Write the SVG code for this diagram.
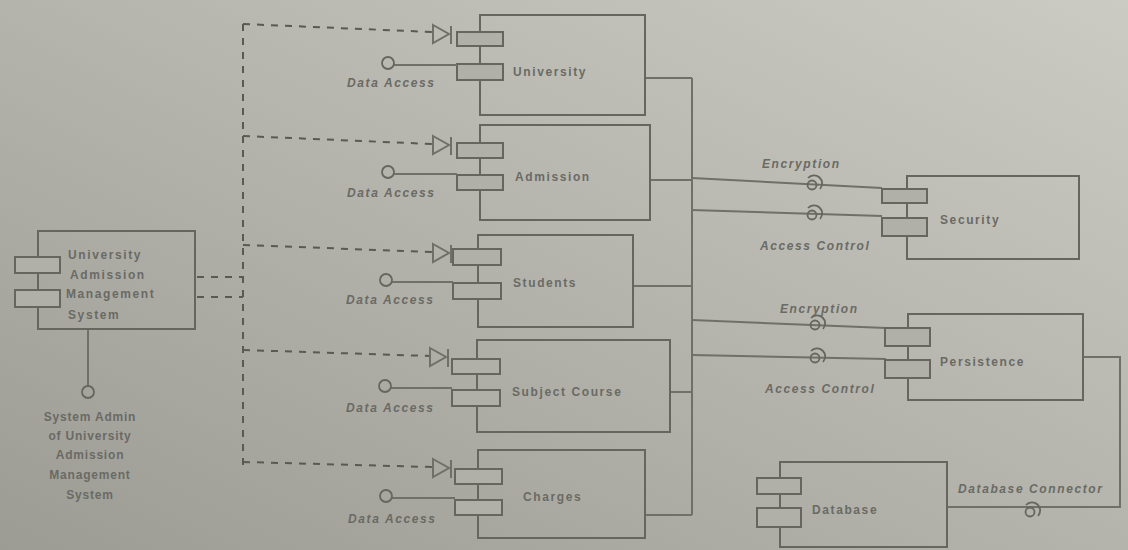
<svg xmlns="http://www.w3.org/2000/svg" width="1128" height="550" viewBox="0 0 1128 550">
<defs>
<linearGradient id="bg" x1="0" y1="1" x2="1" y2="0">
<stop offset="0" stop-color="#9c9c95"/>
<stop offset="0.5" stop-color="#b4b4ad"/>
<stop offset="1" stop-color="#cbcbc4"/>
</linearGradient>
<marker id="tri" viewBox="0 0 18 18" refX="17" refY="9" markerWidth="18" markerHeight="18" markerUnits="userSpaceOnUse" orient="auto">
<path d="M1,1 L17,9 L1,17 Z" fill="none" stroke="#5a5a55" stroke-width="1.8"/>
</marker>
</defs>
<style>
.box{fill:none;stroke:#66665f;stroke-width:2}
.port{fill:#b0b0a9;stroke:#66665f;stroke-width:2}
.ln{fill:none;stroke:#707069;stroke-width:2}
.dash{fill:none;stroke:#5a5a55;stroke-width:2;stroke-dasharray:7 7}
.ball{fill:none;stroke:#66665f;stroke-width:1.8}
.t{font-family:"Liberation Sans",Arial,sans-serif;font-size:12px;font-weight:bold;fill:#6a6a64;font-style:italic;letter-spacing:1.6px}
.tl{font-family:"Liberation Sans",Arial,sans-serif;font-size:12px;font-weight:bold;fill:#6a6a64;letter-spacing:1.6px}
.tc{font-family:"Liberation Sans",Arial,sans-serif;font-size:12px;font-weight:bold;fill:#6a6a64;text-anchor:middle;letter-spacing:0.8px}
</style>
<rect width="1128" height="550" fill="url(#bg)"/>

<g id="connectors">
<path class="dash" d="M243,24 V466"/>
<path class="dash" d="M197,277 H243"/>
<path class="dash" d="M197,297 H243"/>
<path class="dash" d="M243,24 L432,32"/>
<path class="dash" d="M243,136 L432,144"/>
<path class="dash" d="M243,245 L432,252"/>
<path class="dash" d="M243,350 L430,356"/>
<path class="dash" d="M243,462 L432,467"/>
<path class="ln" d="M645,78 H692 M650,180 H692 M633,286 H692 M670,392 H692 M645,515 H692 M692,78 V515"/>
<path class="ln" d="M692,178 L882,188 M692,210 L882,216 M692,320 L886,328 M692,355 L886,359"/>
<path class="ln" d="M1083,357 H1120 V507 H947"/>
<path class="ln" d="M88,329 V386"/>
<circle class="ball" cx="88" cy="392" r="6"/>
</g>

<g id="main">
<rect class="box" x="38" y="231" width="157" height="98"/>
<rect class="port" x="15" y="257" width="45" height="16"/>
<rect class="port" x="15" y="290" width="45" height="17"/>
<text class="tl" x="68" y="259">University</text>
<text class="tl" x="70" y="279">Admission</text>
<text class="tl" x="66" y="298">Management</text>
<text class="tl" x="68" y="319">System</text>
<text class="tc" x="90" y="421">System Admin</text>
<text class="tc" x="90" y="440">of University</text>
<text class="tc" x="90" y="459">Admission</text>
<text class="tc" x="90" y="479">Management</text>
<text class="tc" x="90" y="499">System</text>
</g>

<g id="university">
<rect class="box" x="480" y="15" width="165" height="100"/>
<path class="ln" d="M433,25 L449,34 L433,43 Z M451,26 V44"/>
<rect class="port" x="457" y="32" width="46" height="14"/>
<rect class="port" x="457" y="64" width="46" height="16"/>
<path class="ln" d="M394,65 H457"/>
<circle class="ball" cx="388" cy="63" r="6"/>
<text class="t" x="347" y="87">Data Access</text>
<text class="tl" x="513" y="76">University</text>
</g>

<g id="admission">
<rect class="box" x="480" y="125" width="170" height="95"/>
<path class="ln" d="M433,136 L449,145 L433,154 Z M451,137 V155"/>
<rect class="port" x="457" y="143" width="46" height="15"/>
<rect class="port" x="457" y="175" width="46" height="15"/>
<path class="ln" d="M394,174 H457"/>
<circle class="ball" cx="388" cy="172" r="6"/>
<text class="t" x="347" y="197">Data Access</text>
<text class="tl" x="515" y="181">Admission</text>
</g>

<g id="students">
<rect class="box" x="478" y="235" width="155" height="92"/>
<path class="ln" d="M433,244 L449,253 L433,262 Z M451,245 V263"/>
<rect class="port" x="453" y="249" width="48" height="16"/>
<rect class="port" x="453" y="283" width="48" height="16"/>
<path class="ln" d="M392,282 H453"/>
<circle class="ball" cx="386" cy="280" r="6"/>
<text class="t" x="346" y="304">Data Access</text>
<text class="tl" x="513" y="287">Students</text>
</g>

<g id="subjectcourse">
<rect class="box" x="477" y="340" width="193" height="92"/>
<path class="ln" d="M430,348 L446,357 L430,366 Z M448,349 V367"/>
<rect class="port" x="452" y="359" width="48" height="15"/>
<rect class="port" x="452" y="390" width="48" height="16"/>
<path class="ln" d="M391,388 H452"/>
<circle class="ball" cx="385" cy="386" r="6"/>
<text class="t" x="346" y="412">Data Access</text>
<text class="tl" x="512" y="396">Subject Course</text>
</g>

<g id="charges">
<rect class="box" x="478" y="450" width="167" height="88"/>
<path class="ln" d="M433,459 L449,468 L433,477 Z M451,460 V478"/>
<rect class="port" x="455" y="469" width="47" height="15"/>
<rect class="port" x="455" y="500" width="47" height="15"/>
<path class="ln" d="M392,498 H455"/>
<circle class="ball" cx="386" cy="496" r="6"/>
<text class="t" x="348" y="523">Data Access</text>
<text class="tl" x="523" y="501">Charges</text>
</g>

<g id="security">
<rect class="box" x="907" y="176" width="172" height="83"/>
<rect class="port" x="882" y="189" width="45" height="14"/>
<rect class="port" x="882" y="218" width="45" height="18"/>
<circle class="ball" cx="812" cy="185" r="4.5"/>
<path class="ball" d="M808,178 A8,8 0 0 1 820,189"/>
<circle class="ball" cx="812" cy="215" r="4.5"/>
<path class="ball" d="M808,208 A8,8 0 0 1 820,219"/>
<text class="t" x="762" y="168">Encryption</text>
<text class="t" x="760" y="250">Access Control</text>
<text class="tl" x="940" y="224">Security</text>
</g>

<g id="persistence">
<rect class="box" x="908" y="314" width="175" height="86"/>
<rect class="port" x="885" y="328" width="45" height="18"/>
<rect class="port" x="885" y="360" width="45" height="18"/>
<circle class="ball" cx="815" cy="325" r="4.5"/>
<path class="ball" d="M811,318 A8,8 0 0 1 823,329"/>
<circle class="ball" cx="815" cy="358" r="4.5"/>
<path class="ball" d="M811,351 A8,8 0 0 1 823,362"/>
<text class="t" x="780" y="313">Encryption</text>
<text class="t" x="765" y="393">Access Control</text>
<text class="tl" x="940" y="366">Persistence</text>
</g>

<g id="database">
<rect class="box" x="780" y="462" width="167" height="85"/>
<rect class="port" x="757" y="478" width="44" height="16"/>
<rect class="port" x="757" y="508" width="44" height="19"/>
<circle class="ball" cx="1030" cy="512" r="4.5"/>
<path class="ball" d="M1026,505 A8,8 0 0 1 1038,516"/>
<text class="t" x="958" y="493">Database Connector</text>
<text class="tl" x="812" y="514">Database</text>
</g>
</svg>
